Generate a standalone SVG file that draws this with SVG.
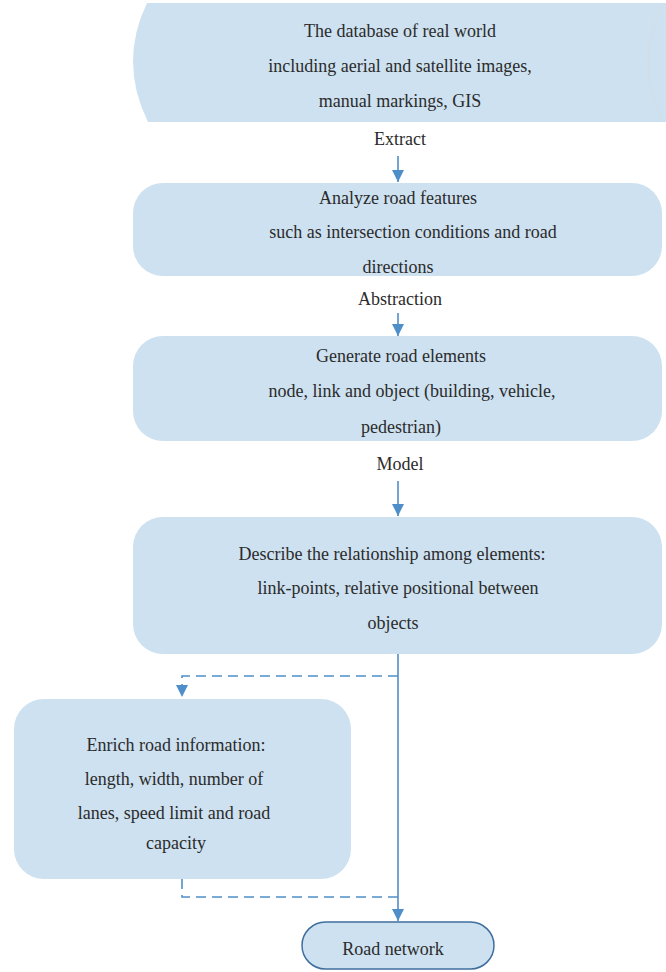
<svg xmlns="http://www.w3.org/2000/svg" width="666" height="972" viewBox="0 0 666 972">
<defs>
<style>
.box{fill:#cde1f0;}
.c{fill:none;stroke:#4f8fc9;stroke-width:1.6;}
.d{fill:none;stroke:#4f8fc9;stroke-width:1.6;stroke-dasharray:10,6;}
</style>
<marker id="ah" markerWidth="12" markerHeight="12" viewBox="0 0 12 12" refX="12" refY="6" orient="auto" markerUnits="userSpaceOnUse">
<path d="M0,0 L12,6 L0,12 Z" fill="#4f8fc9"/>
</marker>
</defs>
<g font-family="Liberation Serif, Times New Roman, serif" font-size="18" fill="#2b2b2b" text-anchor="middle">
<g id="database">
<path class="box" d="M147,3 L672,3 L672,122 L148,122 Q118.5,62 147,3 Z"/>
<path d="M662,5 Q634,62 662,120" fill="none" stroke="#d6dde4" stroke-width="1"/>
<text x="400" y="37">The database of real world</text>
<text x="400" y="72">including aerial and satellite images,</text>
<text x="400" y="107">manual markings, GIS</text>
</g>
<g id="analyze">
<rect class="box" x="133" y="183" width="529" height="93" rx="30"/>
<text x="398" y="204">Analyze road features</text>
<text x="413" y="238">such as intersection conditions and road</text>
<text x="398" y="273">directions</text>
</g>
<g id="generate">
<rect class="box" x="133" y="336" width="529" height="105" rx="30"/>
<text x="401" y="362">Generate road elements</text>
<text x="412" y="397">node, link and object (building, vehicle,</text>
<text x="401" y="433">pedestrian)</text>
</g>
<g id="describe">
<rect class="box" x="133" y="517" width="529" height="137" rx="30"/>
<text x="392" y="560">Describe the relationship among elements:</text>
<text x="398" y="594">link-points, relative positional between</text>
<text x="393" y="629">objects</text>
</g>
<g id="enrich">
<rect class="box" x="14" y="699" width="337" height="180" rx="30"/>
<text x="176" y="751">Enrich road information:</text>
<text x="174" y="785">length, width, number of</text>
<text x="174" y="819">lanes, speed limit and road</text>
<text x="176" y="849">capacity</text>
</g>
<g id="road-network">
<rect x="302" y="922" width="192" height="47" rx="23.5" fill="#cde1f0" stroke="#3f6f9e" stroke-width="1.5"/>
<text x="393" y="955">Road network</text>
</g>
<g id="connectors">
<line class="c" x1="398" y1="156" x2="398" y2="182" marker-end="url(#ah)"/>
<text x="400" y="145">Extract</text>
<line class="c" x1="398" y1="313" x2="398" y2="336" marker-end="url(#ah)"/>
<text x="400" y="305">Abstraction</text>
<line class="c" x1="398" y1="481" x2="398" y2="516" marker-end="url(#ah)"/>
<text x="400" y="470">Model</text>
<line class="c" x1="398" y1="654" x2="398" y2="921" marker-end="url(#ah)"/>
<polyline class="d" points="398,676 182,676 182,697" marker-end="url(#ah)"/>
<polyline class="d" points="182,879 182,897 398,897"/>
</g>
</g>
</svg>
